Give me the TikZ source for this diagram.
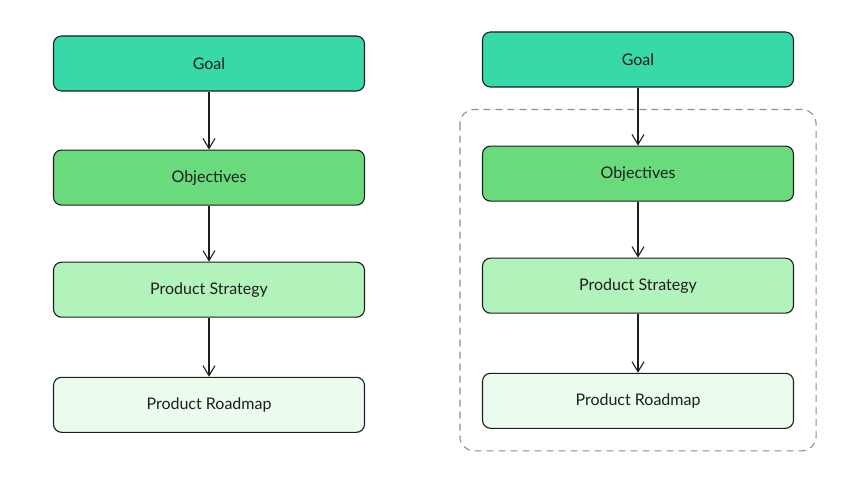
\documentclass[tikz,border=0pt]{standalone}
\usepackage{fontspec}
\setmainfont{Lato}
\usepackage{tikz}
\usetikzlibrary{positioning, arrows.meta, calc, backgrounds}
\definecolor{ink}{HTML}{1E1E1E}
\definecolor{frame}{HTML}{8E8E8E}
\definecolor{goalc}{HTML}{38D9A9}
\definecolor{objc}{HTML}{69DB7C}
\definecolor{stratc}{HTML}{B2F2BB}
\definecolor{mapc}{HTML}{EBFBEE}
\tikzset{
  bx/.style={rounded corners=8pt, draw=ink, line width=1.1pt, text=ink,
    font=\fontsize{16}{19}\selectfont, align=center,
    minimum width=311pt, minimum height=55pt, inner sep=0pt},
  bgoal/.style={bx, fill=goalc},
  bobj/.style={bx, fill=objc},
  bstrat/.style={bx, fill=stratc},
  bmap/.style={bx, fill=mapc},
  flow/.style={-{Straight Barb[length=10pt, width=12pt, line width=1.1pt]}, line width=1.2pt, color=ink},
  grp/.style={draw=frame, line width=1.1pt, dash pattern=on 7pt off 5pt, rounded corners=14pt},
}
\begin{document}
\begin{tikzpicture}[node distance=57pt]
  \useasboundingbox (0pt,0pt) rectangle (865pt,-486pt);
  % left column
  \node[bgoal] (g1) at (209pt,-63.5pt) {Goal};
  \node[bobj, below=58pt of g1] (o1) {Objectives};
  \node[bstrat, below=56pt of o1] (s1) {Product Strategy};
  \node[bmap, below=59pt of s1] (r1) {Product Roadmap};
  \draw[flow] (g1)--(o1); \draw[flow] (o1)--(s1); \draw[flow] (s1)--(r1);
  % right column, grouped below the goal
  \node[bgoal] (g2) at (638pt,-59.5pt) {Goal};
  \node[bobj, below=58pt of g2] (o2) {Objectives};
  \node[bstrat, below=56pt of o2] (s2) {Product Strategy};
  \node[bmap, below=59pt of s2] (r2) {Product Roadmap};
  \begin{scope}[on background layer]
    \draw[grp] ($(o2.north west)+(-22pt,36pt)$) rectangle ($(r2.south east)+(22pt,-22pt)$);
  \end{scope}
  \draw[flow] (g2)--(o2); \draw[flow] (o2)--(s2); \draw[flow] (s2)--(r2);
\end{tikzpicture}
\end{document}
